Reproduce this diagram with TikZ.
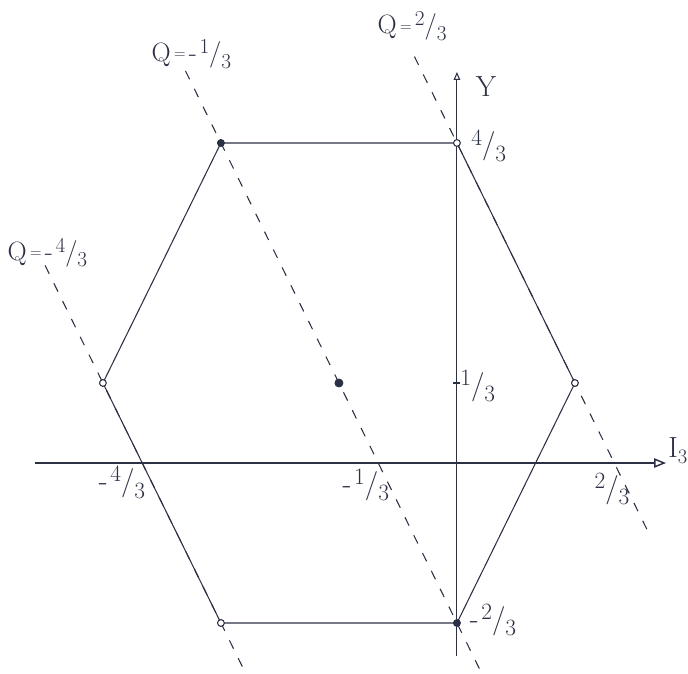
\documentclass[tikz,border=0pt]{standalone}
\usepackage{graphicx}
\usepackage{fontspec}
\usetikzlibrary{arrows.meta}
\definecolor{ink}{RGB}{44,48,68}
\newcommand{\fr}[2]{\raisebox{0.7ex}{\scalebox{0.8}{#1}}/\raisebox{-0.6ex}{\scalebox{0.8}{#2}}}
\newcommand{\eq}{\kern2.5pt\raisebox{0.2ex}{\scalebox{0.6}{=}}\kern2.5pt}

\begin{document}
\begin{tikzpicture}[
x=6.254cm, y=6.36cm,
xaxis/.style={draw=ink, line width=1.1pt},
yaxis/.style={draw=ink, line width=0.8pt},
edge/.style={draw=ink, line width=0.8pt},
qline/.style={draw=ink, line width=0.8pt, dash pattern=on 7pt off 8pt},
state/.style={circle, draw=ink, line width=0.7pt, inner sep=0pt, minimum size=5pt, fill=white},
full/.style={state, fill=ink},
lbl/.style={text=ink, font=\fontsize{22}{26}\selectfont, inner sep=1pt},
qlbl/.style={lbl, font=\fontsize{20}{24}\selectfont},
>=Latex
]
\useasboundingbox (-1.936,-0.879) rectangle (0.979,1.929);

% charge lines Q = I3 + Y/2
\coordinate (qa1) at (-0.18,{4/3+0.36});
\coordinate (qa2) at (0.822,{4/3-1.644});
\coordinate (qb1) at (-1.15,{-2/3+2.30});
\coordinate (qb2) at (0.1,{-2/3-0.2});
\coordinate (qc1) at (-1.745,{-8/3+3.49});
\coordinate (qc2) at (-0.9,{-8/3+1.8});
\draw[qline] (qa1) -- (qa2);
\draw[qline] (qb1) -- (qb2);
\draw[qline] (qc1) -- (qc2);

% weights
\node[state] (tr) at (0,4/3) {};
\node[full] (tl) at (-1,4/3) {};
\node[state] (l) at (-3/2,1/3) {};
\node[state] (bl) at (-1,-2/3) {};
\node[full] (br) at (0,-2/3) {};
\node[state] (r) at (1/2,1/3) {};
\node[full, minimum size=6pt] (c) at (-1/2,1/3) {};

% hexagon
\draw[edge] (tr.center) -- (tl.center) -- (l.center) -- (bl.center) -- (br.center) -- (r.center) -- cycle;

% axes
\coordinate (xs) at (-1.788,0);
\coordinate (xe) at (0.886,0);
\coordinate (ys) at (0,-0.804);
\coordinate (ye) at (0,1.629);
\draw[xaxis,-{Triangle[open,length=9pt,width=7pt]}] (xs) -- (xe);
\draw[yaxis,-{Triangle[open,length=6pt,width=5pt]}] (ys) -- (ye);
\coordinate (t1) at (-0.015,1/3);
\coordinate (t2) at (0.015,1/3);
\draw[yaxis] (t1) -- (t2);

% redraw dots on top
\foreach \v in {tr,l,bl,r} \node[state] at (\v) {};
\foreach \v in {tl,br} \node[full] at (\v) {};

% labels
\node[lbl, anchor=east, inner sep=0pt] (lI) at (0.977,0.05) {I\raisebox{-0.5ex}{\scalebox{0.7}{3}}};
\node[lbl] (lY) at (0.123,1.567) {Y};
\node[qlbl] (lqa) at (-0.19,1.82) {Q\eq\fr23};
\node[qlbl] (lqb) at (-1.125,1.705) {Q\eq-\kern2pt\fr13};
\node[qlbl] (lqc) at (-1.735,0.877) {Q\eq-\kern2pt\fr43};
\node[lbl] (ltr) at (0.135,1.322) {\fr43};
\node[lbl] (lr) at (0.088,0.32) {\fr13};
\node[lbl] (lx1) at (-1.419,-0.08) {-\kern2pt\fr43};
\node[lbl] (lx2) at (-0.386,-0.092) {-\kern2pt\fr13};
\node[lbl] (lx3) at (0.657,-0.108) {\fr23};
\node[lbl] (lbr) at (0.153,-0.654) {-\kern2pt\fr23};
\end{tikzpicture}
\end{document}
